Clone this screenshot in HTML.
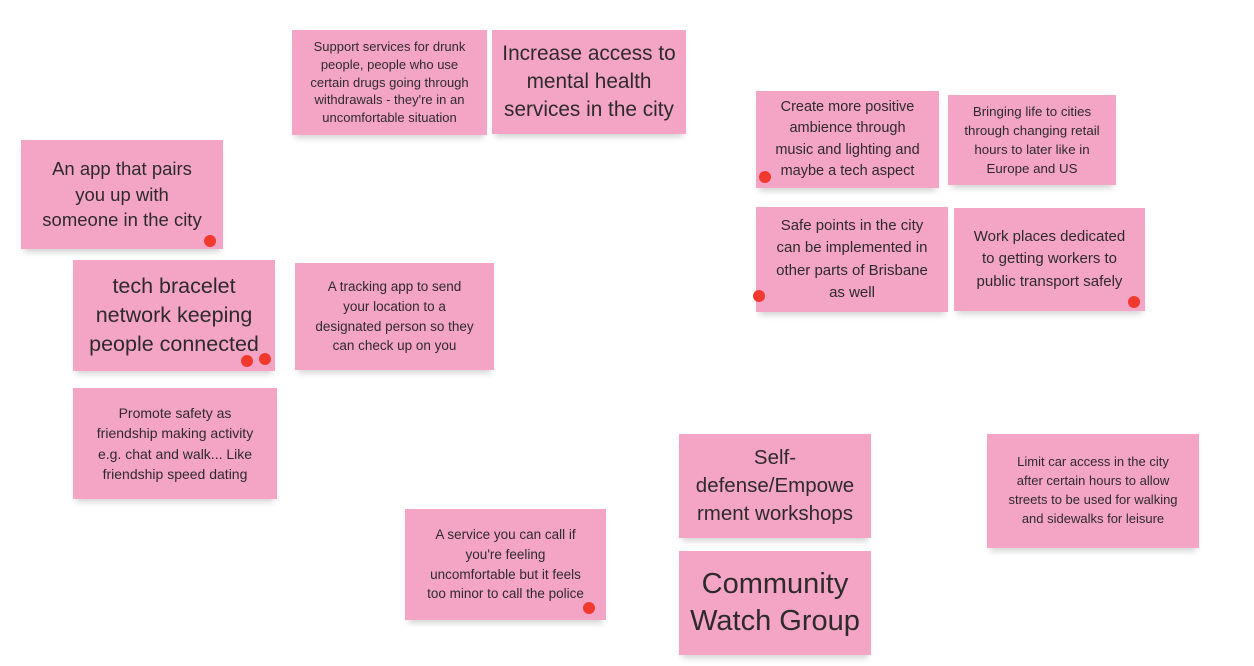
<!DOCTYPE html>
<html><head><meta charset="utf-8"><style>
body{margin:0;width:1254px;height:666px;background:#fff;position:relative;overflow:hidden;font-family:"Liberation Sans",sans-serif}
.n{position:absolute;background:#f4a5c6;color:#2e2a2c;display:flex;align-items:center;justify-content:center;text-align:center;box-sizing:border-box;padding:4px 2px;box-shadow:0 6px 6px -3px rgba(0,0,0,0.18);line-height:1.3;white-space:nowrap}
.d{position:absolute;width:12px;height:12px;border-radius:50%;background:#f2392e}
</style></head><body>
<div class="n" style="left:292px;top:30px;width:195px;height:105px;font-size:13px;line-height:1.36">Support services for drunk<br>people, people who use<br>certain drugs going through<br>withdrawals - they're in an<br>uncomfortable situation</div>
<div class="n" style="left:492px;top:30px;width:194px;height:104px;font-size:20.8px;line-height:1.36">Increase access to<br>mental health<br>services in the city</div>
<div class="n" style="left:21px;top:140px;width:202px;height:109px;font-size:18.5px;line-height:1.4">An app that pairs<br>you up with<br>someone in the city</div>
<div class="n" style="left:73px;top:260px;width:202px;height:111px;font-size:21.5px;line-height:1.36">tech bracelet<br>network keeping<br>people connected</div>
<div class="n" style="left:295px;top:263px;width:199px;height:107px;font-size:13.5px;line-height:1.45">A tracking app to send<br>your location to a<br>designated person so they<br>can check up on you</div>
<div class="n" style="left:73px;top:388px;width:204px;height:111px;font-size:14px;line-height:1.43">Promote safety as<br>friendship making activity<br>e.g. chat and walk... Like<br>friendship speed dating</div>
<div class="n" style="left:756px;top:91px;width:183px;height:97px;font-size:14.5px;line-height:1.45">Create more positive<br>ambience through<br>music and lighting and<br>maybe a tech aspect</div>
<div class="n" style="left:948px;top:95px;width:168px;height:90px;font-size:13.3px;line-height:1.43">Bringing life to cities<br>through changing retail<br>hours to later like in<br>Europe and US</div>
<div class="n" style="left:756px;top:207px;width:192px;height:105px;font-size:15px;line-height:1.47">Safe points in the city<br>can be implemented in<br>other parts of Brisbane<br>as well</div>
<div class="n" style="left:954px;top:208px;width:191px;height:103px;font-size:15px;line-height:1.47">Work places dedicated<br>to getting workers to<br>public transport safely</div>
<div class="n" style="left:679px;top:434px;width:192px;height:104px;font-size:20.5px;line-height:1.38">Self-<br>defense/Empowe<br>rment workshops</div>
<div class="n" style="left:987px;top:434px;width:212px;height:114px;font-size:13px;line-height:1.45">Limit car access in the city<br>after certain hours to allow<br>streets to be used for walking<br>and sidewalks for leisure</div>
<div class="n" style="left:405px;top:509px;width:201px;height:111px;font-size:13.5px;line-height:1.47">A service you can call if<br>you're feeling<br>uncomfortable but it feels<br>too minor to call the police</div>
<div class="n" style="left:679px;top:551px;width:192px;height:104px;font-size:29px;line-height:1.28">Community<br>Watch Group</div>
<div class="d" style="left:204px;top:235px"></div>
<div class="d" style="left:241px;top:355px"></div>
<div class="d" style="left:259px;top:353px"></div>
<div class="d" style="left:759px;top:171px"></div>
<div class="d" style="left:753px;top:290px"></div>
<div class="d" style="left:1128px;top:296px"></div>
<div class="d" style="left:583px;top:602px"></div>
</body></html>
